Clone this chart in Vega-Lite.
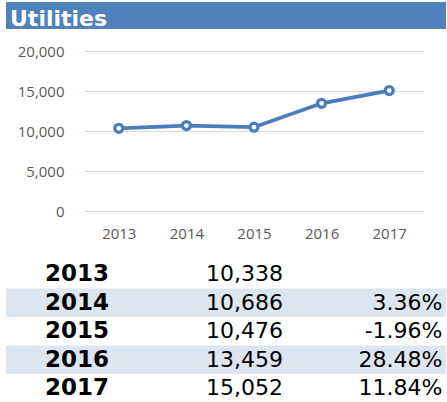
{
  "$schema": "https://vega.github.io/schema/vega-lite/v6.json",
  "padding": {"left": 6, "top": 2, "right": 0, "bottom": 0},
  "spacing": 14,
  "config": {
    "view": {"stroke": null},
    "locale": {"number": {"decimal": ".", "thousands": ",", "grouping": [3], "currency": ["$", ""], "minus": "-"}}
  },
  "data": {"values": [
    {"year": 2013, "value": 10338, "change": null},
    {"year": 2014, "value": 10686, "change": 0.0336},
    {"year": 2015, "value": 10476, "change": -0.0196},
    {"year": 2016, "value": 13459, "change": 0.2848},
    {"year": 2017, "value": 15052, "change": 0.1184}
  ]},
  "vconcat": [
    {
      "data": {"values": [{"name": "Utilities"}]},
      "width": 440,
      "height": 27,
      "view": {"fill": "#4F81BD", "stroke": null},
      "mark": {"type": "text", "align": "left", "baseline": "middle", "font": "DejaVu Sans", "fontSize": 22, "fontWeight": "bold", "color": "white", "dx": 4, "dy": 3},
      "encoding": {
        "x": {"field": "name", "type": "nominal", "bandPosition": 0, "scale": {"type": "band", "paddingInner": 0, "paddingOuter": 0}, "axis": null},
        "text": {"field": "name"}
      }
    },
    {
      "width": 440,
      "height": 160,
      "encoding": {
        "x": {"field": "year", "type": "ordinal", "scale": {"type": "point", "range": [79, 417], "padding": 0.5}, "axis": {"title": null, "labelAngle": 0, "domain": false, "ticks": false, "grid": false, "labelPadding": 15.5, "labelFont": "Open Sans", "labelFontSize": 15, "labelColor": "#595959", "minExtent": 34.5}},
        "y": {"field": "value", "type": "quantitative", "scale": {"domain": [0, 20000]}, "axis": {"title": null, "values": [0, 5000, 10000, 15000, 20000], "format": ",.0f", "domain": false, "ticks": false, "labelPadding": -58, "labelFont": "Open Sans", "labelFontSize": 15, "labelColor": "#595959", "gridColor": "#D9D9D9", "gridWidth": 1}}
      },
      "layer": [
        {"mark": {"type": "line", "color": "#4A7EBB", "strokeWidth": 3.75}},
        {"mark": {"type": "point", "filled": true, "fill": "white", "stroke": "#4A7EBB", "strokeWidth": 3.25, "size": 64, "opacity": 1}}
      ]
    },
    {
      "width": 440,
      "height": 142.5,
      "encoding": {
        "y": {"field": "year", "type": "ordinal", "scale": {"paddingInner": 0, "paddingOuter": 0, "round": false}, "axis": null}
      },
      "layer": [
        {
          "transform": [{"filter": "datum.year == 2014 || datum.year == 2016"}],
          "mark": {"type": "rect", "color": "#DCE6F1"}
        },
        {
          "mark": {"type": "text", "align": "left", "baseline": "middle", "font": "DejaVu Sans", "fontSize": 23, "fontWeight": "bold", "color": "black"},
          "encoding": {
            "x": {"datum": "year", "type": "nominal", "bandPosition": 0, "scale": {"type": "band", "domain": ["year", "value", "change"], "paddingInner": 0.5078, "paddingOuter": 0.1332, "align": 0.9176, "round": false}, "axis": null},
            "text": {"field": "year", "type": "nominal"}
          }
        },
        {
          "mark": {"type": "text", "align": "right", "baseline": "middle", "font": "DejaVu Sans", "fontSize": 22, "color": "black"},
          "encoding": {
            "x": {"datum": "value", "type": "nominal", "bandPosition": 1},
            "text": {"field": "value", "type": "quantitative", "format": ","}
          }
        },
        {
          "transform": [{"filter": "isValid(datum.change)"}],
          "mark": {"type": "text", "align": "right", "baseline": "middle", "font": "DejaVu Sans", "fontSize": 22, "color": "black"},
          "encoding": {
            "x": {"datum": "change", "type": "nominal", "bandPosition": 1},
            "text": {"field": "change", "type": "quantitative", "format": ".2%"}
          }
        }
      ]
    }
  ]
}
